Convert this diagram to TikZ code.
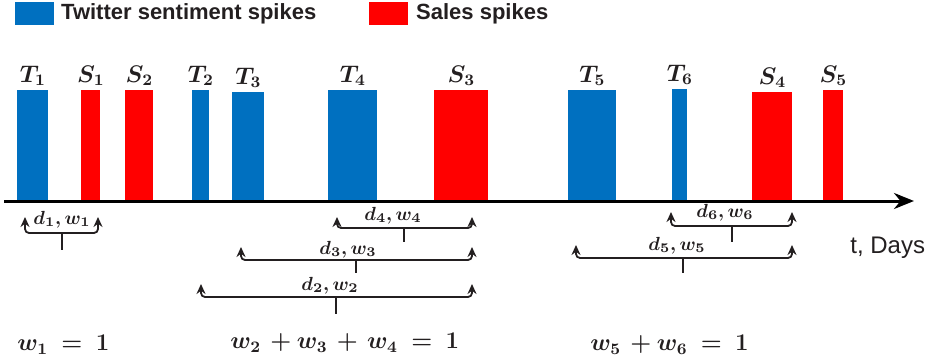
\documentclass[tikz,border=0pt]{standalone}
\usepackage{fix-cm}
\usepackage{amsmath}
\usepackage{bm}
\usepackage[no-math]{fontspec}
\newfontfamily\legendfont{Liberation Sans}
\usepackage{tikz}
\usetikzlibrary{arrows.meta, positioning, calc}
\definecolor{twblue}{RGB}{0,112,192}
\definecolor{salered}{RGB}{255,0,0}
\definecolor{mydark}{RGB}{35,31,32}
\tikzset{
  tbar/.style={rectangle, fill=twblue, inner sep=0pt, anchor=south west},
  sbar/.style={rectangle, fill=salered, inner sep=0pt, anchor=south west},
  legbox/.style={rectangle, inner sep=0pt, anchor=north west,
    minimum width=19.5pt, minimum height=11.5pt},
  legtext/.style={anchor=west, inner sep=0pt, text=mydark,
    font=\legendfont\bfseries\fontsize{11}{13}\selectfont},
  spikelab/.style={font=\fontsize{12}{14}\selectfont, text=mydark, inner sep=1.5pt},
  axis/.style={-{Stealth[length=10pt,width=8pt]}, line width=1.5pt, color=black},
  brace/.style={{Stealth[length=5pt,width=4.5pt]}-{Stealth[length=5pt,width=4.5pt]},
    line width=0.9pt, rounded corners=2pt, color=mydark},
  stem/.style={line width=0.9pt, color=mydark},
  dlab/.style={font=\fontsize{9.5}{11}\selectfont, text=mydark, inner sep=0pt},
  sumlab/.style={font=\fontsize{12}{15}\selectfont, text=mydark, anchor=west, inner sep=0pt}
}

\begin{document}
\begin{tikzpicture}[x=0.5pt, y=-0.5pt]
  \useasboundingbox (0,0) rectangle (933,364);
  % legend
  \node[legbox, fill=twblue] (legT) at (15,2) {};
  \node[legtext, right=3pt of legT] (legTtxt) {Twitter sentiment spikes};
  \node[legbox, fill=salered] (legS) at (369,2) {};
  \node[legtext, right=3.5pt of legS] (legStxt) {Sales spikes};
  % spikes
  \foreach \i/\xa/\xb/\yt in {1/17/48/90, 2/192/209/90, 3/232/264/92,
                              4/328/377/90, 5/568/616/90, 6/672/687/89}
    \node[tbar, minimum width={(\xb-\xa)*0.5pt}, minimum height={(200-\yt)*0.5pt},
      label={[spikelab]above:$\bm{T_{\i}}$}] (T\i) at (\xa,200) {};
  \foreach \i/\xa/\xb/\yt in {1/81/100/90, 2/125/153/90, 3/434/488/90,
                              4/752/792/92, 5/823/843/90}
    \node[sbar, minimum width={(\xb-\xa)*0.5pt}, minimum height={(200-\yt)*0.5pt},
      label={[spikelab]above:$\bm{S_{\i}}$}] (S\i) at (\xa,200) {};
  % time axis
  \coordinate (ax0) at (4,201);
  \coordinate (ax1) at (914,201);
  \draw[axis] (ax0) -- (ax1);
  \node[anchor=west, inner sep=0pt, font=\legendfont\fontsize{12}{14}\selectfont,
    text=mydark] (days) at (850,248) {t, Days};
  % delays and weights
  \foreach \k/\xl/\xr/\yt/\yh/\xm/\yb/\xt/\ylab in {
      1/25/98/217/233/62/250/62/220,
      4/337/472/217/228/404/242/393/216,
      3/241/472/247/260/356/273/348/250,
      2/201/472/284/297/336/314/330/286,
      6/671/792/212/226/732/242/725/213,
      5/576/792/245/258/683/273/677/246}{
    \coordinate (b\k l) at (\xl,\yt);
    \coordinate (b\k r) at (\xr,\yt);
    \coordinate (b\k m) at (\xm,\yh);
    \coordinate (b\k s) at (\xm,\yb);
    \draw[brace] (b\k l) |- (b\k m) -| (b\k r);
    \draw[stem] (b\k m) -- (b\k s);
    \node[dlab] (dw\k) at (\xt,\ylab) {$\bm{d_{\k}, w_{\k}}$};
  }
  % weight sums
  \node[sumlab] (sum1) at (17,345) {$\bm{w_1\;=\;1}$};
  \node[sumlab] (sum2) at (230,343) {$\bm{w_2\,+w_3\,+\,w_4\;=\;1}$};
  \node[sumlab] (sum3) at (590,345) {$\bm{w_5\,+w_6\;=\;1}$};
\end{tikzpicture}
\end{document}
